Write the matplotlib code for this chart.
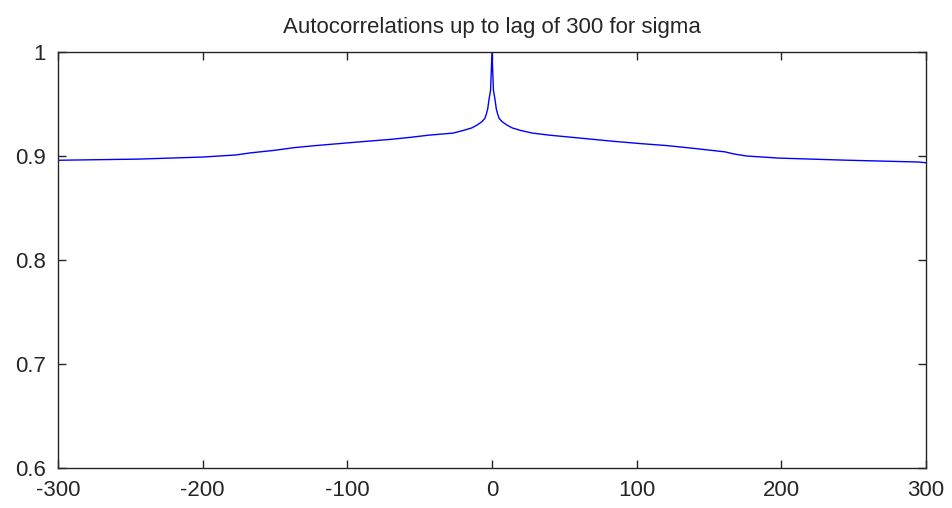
import numpy as np
import matplotlib.pyplot as plt

plt.rcParams['font.family'] = ['Liberation Sans', 'DejaVu Sans']
plt.rcParams['axes.unicode_minus'] = False

# autocorrelation values (negative and positive lags)
lags_left = [-300, -245, -200, -177, -167, -150, -137, -122, -105, -88,
             -70, -56, -44, -27, -20, -14, -10, -7, -5, -4, -3, -2, -1]
acf_left = [0.8959, 0.8970, 0.8990, 0.9010, 0.9030, 0.9055, 0.9080,
            0.9100, 0.9120, 0.9140, 0.9160, 0.9180, 0.9200, 0.9220, 0.9245,
            0.9270, 0.9300, 0.9330, 0.9360, 0.9400, 0.9450, 0.9550, 0.9630]

lags_right = [0, 1, 2, 3, 4, 5, 7, 10, 14, 20, 28, 40, 55, 70, 85, 102, 121,
              135, 148, 161, 167, 176, 198, 244, 295, 300]
acf_right = [1.0, 0.9630, 0.9550, 0.9450, 0.9400, 0.9360, 0.9330, 0.9300,
             0.9270, 0.9245, 0.9220, 0.9200, 0.9180, 0.9160, 0.9140, 0.9120,
             0.9100, 0.9080, 0.9060, 0.9040, 0.9020, 0.9000, 0.8980, 0.8960,
             0.8942, 0.8935]

x_ticks = [-300, -200, -100, 0, 100, 200, 300]
y_ticks = [0.6, 0.7, 0.8, 0.9, 1.0]
y_labels = ['0.6', '0.7', '0.8', '0.9', '1']

lags = np.array(lags_left + lags_right)
acf = np.array(acf_left + acf_right)

fig = plt.figure(figsize=(9.52, 5.08), dpi=100)
ax = fig.add_axes([58 / 952, 40 / 508, 868 / 952, 416 / 508])

ax.plot(lags, acf, color=(0, 0, 1), lw=1.0)

ax.set_xlim(-300, 300)
ax.set_ylim(0.6, 1.0)
ax.set_xticks(x_ticks)
ax.set_yticks(y_ticks)
ax.set_yticklabels(y_labels)
ax.tick_params(direction='in', length=6, width=1, top=True, right=True,
               labelsize=16, pad=9, colors='#262626')
for s in ax.spines.values():
    s.set_color('#262626')
    s.set_linewidth(1.0)

ax.set_title('Autocorrelations up to lag of 300 for sigma', fontsize=16,
             pad=14, color='#262626')

fig.savefig('out.png', dpi=100)
